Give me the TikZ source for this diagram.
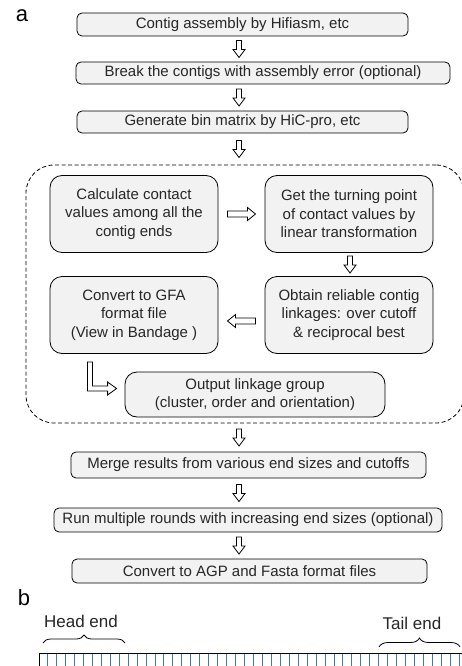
\documentclass[tikz,border=0pt]{standalone}
\usepackage{fontspec}
\setmainfont{Liberation Sans}
\usetikzlibrary{calc,positioning,decorations.pathreplacing}

\definecolor{boxgray}{HTML}{F2F2F2}
\definecolor{tickblue}{HTML}{4472C4}

% hollow block arrows drawn between two points
\newcommand{\vfat}[2]{%
  \draw[fatarrow] let \p1=($(#1)!0.5!(#2)$) in
    (\x1-2.5pt,\y1+8.5pt) -- (\x1+2.5pt,\y1+8.5pt) -- (\x1+2.5pt,\y1-0.5pt)
    -- (\x1+6pt,\y1-0.5pt) -- (\x1,\y1-8.5pt) -- (\x1-6pt,\y1-0.5pt)
    -- (\x1-2.5pt,\y1-0.5pt) -- cycle;}
\newcommand{\hfat}[2]{%
  \draw[fatarrow] let \p1=($(#1)!0.5!(#2)$), \p2=($(#2)-(#1)$), \n1={sign(\x2)} in
    (\x1-\n1*14pt,\y1+3pt) -- (\x1+\n1*6pt,\y1+3pt) -- (\x1+\n1*6pt,\y1+6.5pt)
    -- (\x1+\n1*14pt,\y1) -- (\x1+\n1*6pt,\y1-6.5pt) -- (\x1+\n1*6pt,\y1-3pt)
    -- (\x1-\n1*14pt,\y1-3pt) -- cycle;}

\begin{document}
\begin{tikzpicture}[x=1pt, y=-1pt,
    every node/.style={font=\fontsize{15}{18.5}\selectfont, text=black!85},
    stepbox/.style={draw, line width=0.8pt, fill=boxgray, rounded corners=5pt, minimum height=23pt, inner sep=0pt},
    inbox/.style={draw, line width=0.8pt, fill=boxgray, rounded corners=12pt, minimum width=168pt, minimum height=77pt, inner sep=0pt, align=center},
    frame/.style={draw, dashed, dash pattern=on 4pt off 2.5pt, line width=0.8pt, rounded corners=28pt},
    fatarrow/.style={draw, fill=white, line width=0.8pt},
    panel/.style={font=\fontsize{22}{26}\selectfont, text=black},
    endlabel/.style={font=\fontsize{17}{20}\selectfont},
    endbrace/.style={decorate, decoration={brace, amplitude=#1}, line width=0.8pt}
]
\useasboundingbox (0,0) rectangle (461,666);

% Panel a
\node[panel] (pa) at (22,16) {a};
\coordinate (axis) at (239,0);

\node[stepbox, minimum width=331pt] (contig) at (242.5,24.5) {Contig assembly by Hifiasm, etc};
\node[stepbox, minimum width=374pt, minimum height=22pt] (break) at (263,73) {Break the contigs with assembly error (optional)};
\node[stepbox, minimum width=331pt, minimum height=22pt] (binmat) at (242.5,122) {Generate bin matrix by HiC-pro, etc};

% Core loop
\node[frame, minimum width=438pt, minimum height=258pt] (core) at (245,294) {};
\node[inbox] (calc) at (134,214) {Calculate contact\\values among all the\\contig ends};
\node[inbox] (turn) at (349,214) {Get the turning point\\of contact values by\\linear transformation};
\node[inbox] (links) at (349,315) {Obtain reliable contig\\linkages: over cutoff\\\& reciprocal best};
\node[inbox] (gfa) at (134,315) {Convert to GFA\\format file\\(View in Bandage )};
\node[inbox, minimum width=260pt, minimum height=45pt, inner sep=0pt] (group) at (255,394.5) {Output linkage group\\(cluster, order and orientation)};

\vfat{axis |- contig.south}{axis |- break.north}
\vfat{axis |- break.south}{axis |- binmat.north}
\vfat{axis |- binmat.south}{axis |- core.north}
\hfat{calc.east}{turn.west}
\vfat{[xshift=1pt]turn.south}{[xshift=1pt]links.north}
\hfat{[yshift=-6pt]links.west}{[yshift=-6pt]gfa.east}
\draw[fatarrow] let \p1=([xshift=-44pt,yshift=-8pt]gfa.south), \p2=([xshift=-8pt,yshift=6pt]group.west) in
    (\x1-2.5pt,\y1) -- (\x1+2.5pt,\y1) -- (\x1+2.5pt,\y2+2.5pt) -- (\x2-9pt,\y2+2.5pt)
    -- (\x2-9pt,\y2+6.5pt) -- (\x2,\y2) -- (\x2-9pt,\y2-6.5pt) -- (\x2-9pt,\y2-2.5pt)
    -- (\x1-2.5pt,\y2-2.5pt) -- cycle;

% After the loop
\node[stepbox, minimum width=355pt, minimum height=26pt] (merge) at (248.5,465) {Merge results from various end sizes and cutoffs};
\node[stepbox, minimum width=388pt, minimum height=24pt] (rounds) at (248,520) {Run multiple rounds with increasing end sizes (optional)};
\node[stepbox, minimum width=355pt, minimum height=24pt] (agp) at (249.5,571) {Convert to AGP and Fasta format files};

\vfat{axis |- core.south}{axis |- merge.north}
\vfat{axis |- merge.south}{axis |- rounds.north}
\vfat{axis |- rounds.south}{axis |- agp.north}

% Panel b
\node[panel] (pb) at (24,598) {b};
\node[endlabel] (head) at (81,621) {Head end};
\node[endlabel] (tail) at (412,623) {Tail end};
\draw[endbrace=8pt] (43,643) -- (125,643);
\draw[endbrace=9pt] (379,647) -- (460,647);

\foreach \k in {0,...,46}
  \draw[tickblue, line width=0.8pt] ({47.5+8.95*\k},654) -- ({47.5+8.95*\k},667);
\draw[line width=0.8pt] (39,667) -- (39,653) -- (470,653);

\end{tikzpicture}
\end{document}
